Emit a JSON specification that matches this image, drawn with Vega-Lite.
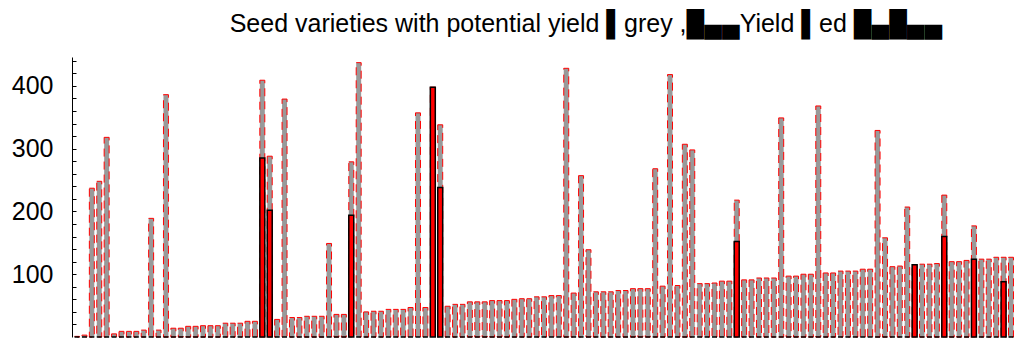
{
  "$schema": "https://vega.github.io/schema/vega-lite/v6.json",
  "width": 944,
  "height": 280,
  "autosize": {"type": "none"},
  "padding": {"left": 72, "top": 57, "right": 1, "bottom": 3},
  "background": "white",
  "title": {"text": "Seed varieties  with  potential  yield  ▌grey ,█▄▄Yield  ▌ed █▄█▄▄", "font": "Liberation Sans", "fontSize": 25, "fontWeight": "normal", "color": "black", "anchor": "middle", "frame": "group", "dx": 42, "offset": -8, "baseline": "alphabetic"},
  "data": {"values": [
    {"id":1,"potential":1,"yield":0},{"id":2,"potential":3,"yield":0},{"id":3,"potential":237,"yield":0},{"id":4,"potential":248,"yield":0},{"id":5,"potential":318,"yield":0},
    {"id":6,"potential":5,"yield":0},{"id":7,"potential":9,"yield":0},{"id":8,"potential":9,"yield":0},{"id":9,"potential":9,"yield":0},{"id":10,"potential":11,"yield":0},
    {"id":11,"potential":189,"yield":0},{"id":12,"potential":11,"yield":0},{"id":13,"potential":386,"yield":0},{"id":14,"potential":14,"yield":0},{"id":15,"potential":14,"yield":0},
    {"id":16,"potential":17,"yield":0},{"id":17,"potential":17,"yield":0},{"id":18,"potential":18,"yield":0},{"id":19,"potential":18,"yield":0},{"id":20,"potential":18,"yield":0},
    {"id":21,"potential":22,"yield":0},{"id":22,"potential":22,"yield":0},{"id":23,"potential":22,"yield":0},{"id":24,"potential":25,"yield":0},{"id":25,"potential":25,"yield":0},
    {"id":26,"potential":409,"yield":285},{"id":27,"potential":288,"yield":202},{"id":28,"potential":28,"yield":0},{"id":29,"potential":379,"yield":0},{"id":30,"potential":31,"yield":0},
    {"id":31,"potential":31,"yield":0},{"id":32,"potential":33,"yield":0},{"id":33,"potential":33,"yield":0},{"id":34,"potential":33,"yield":0},{"id":35,"potential":149,"yield":0},
    {"id":36,"potential":36,"yield":0},{"id":37,"potential":36,"yield":0},{"id":38,"potential":279,"yield":194},{"id":39,"potential":437,"yield":0},{"id":40,"potential":40,"yield":0},
    {"id":41,"potential":41,"yield":0},{"id":42,"potential":41,"yield":0},{"id":43,"potential":44,"yield":0},{"id":44,"potential":44,"yield":0},{"id":45,"potential":44,"yield":0},
    {"id":46,"potential":47,"yield":0},{"id":47,"potential":357,"yield":0},{"id":48,"potential":47,"yield":0},{"id":49,"potential":398,"yield":398},{"id":50,"potential":338,"yield":238},
    {"id":51,"potential":49,"yield":0},{"id":52,"potential":52,"yield":0},{"id":53,"potential":52,"yield":0},{"id":54,"potential":56,"yield":0},{"id":55,"potential":56,"yield":0},
    {"id":56,"potential":56,"yield":0},{"id":57,"potential":58,"yield":0},{"id":58,"potential":58,"yield":0},{"id":59,"potential":58,"yield":0},{"id":60,"potential":60,"yield":0},
    {"id":61,"potential":61,"yield":0},{"id":62,"potential":61,"yield":0},{"id":63,"potential":64,"yield":0},{"id":64,"potential":64,"yield":0},{"id":65,"potential":66,"yield":0},
    {"id":66,"potential":66,"yield":0},{"id":67,"potential":428,"yield":0},{"id":68,"potential":70,"yield":0},{"id":69,"potential":257,"yield":0},{"id":70,"potential":139,"yield":0},
    {"id":71,"potential":72,"yield":0},{"id":72,"potential":72,"yield":0},{"id":73,"potential":72,"yield":0},{"id":74,"potential":74,"yield":0},{"id":75,"potential":74,"yield":0},
    {"id":76,"potential":77,"yield":0},{"id":77,"potential":77,"yield":0},{"id":78,"potential":77,"yield":0},{"id":79,"potential":268,"yield":0},{"id":80,"potential":81,"yield":0},
    {"id":81,"potential":418,"yield":0},{"id":82,"potential":82,"yield":0},{"id":83,"potential":307,"yield":0},{"id":84,"potential":298,"yield":0},{"id":85,"potential":85,"yield":0},
    {"id":86,"potential":85,"yield":0},{"id":87,"potential":86,"yield":0},{"id":88,"potential":89,"yield":0},{"id":89,"potential":89,"yield":0},{"id":90,"potential":218,"yield":152},
    {"id":91,"potential":91,"yield":0},{"id":92,"potential":91,"yield":0},{"id":93,"potential":94,"yield":0},{"id":94,"potential":94,"yield":0},{"id":95,"potential":94,"yield":0},
    {"id":96,"potential":349,"yield":0},{"id":97,"potential":97,"yield":0},{"id":98,"potential":97,"yield":0},{"id":99,"potential":100,"yield":0},{"id":100,"potential":100,"yield":0},
    {"id":101,"potential":368,"yield":0},{"id":102,"potential":102,"yield":0},{"id":103,"potential":102,"yield":0},{"id":104,"potential":105,"yield":0},{"id":105,"potential":105,"yield":0},
    {"id":106,"potential":105,"yield":0},{"id":107,"potential":108,"yield":0},{"id":108,"potential":108,"yield":0},{"id":109,"potential":329,"yield":0},{"id":110,"potential":158,"yield":0},
    {"id":111,"potential":112,"yield":0},{"id":112,"potential":113,"yield":0},{"id":113,"potential":207,"yield":0},{"id":114,"potential":115,"yield":115},{"id":115,"potential":116,"yield":0},
    {"id":116,"potential":116,"yield":0},{"id":117,"potential":117,"yield":0},{"id":118,"potential":226,"yield":160},{"id":119,"potential":120,"yield":0},{"id":120,"potential":120,"yield":0},
    {"id":121,"potential":122,"yield":0},{"id":122,"potential":177,"yield":124},{"id":123,"potential":124,"yield":0},{"id":124,"potential":124,"yield":0},{"id":125,"potential":127,"yield":0},
    {"id":126,"potential":127,"yield":88},{"id":127,"potential":127,"yield":0}
  ]},
  "encoding": {
    "x": {"field": "id", "type": "ordinal", "axis": null, "scale": {"paddingInner": 0.33, "paddingOuter": 0.34}}
  },
  "layer": [
    {
      "mark": {"type": "bar", "fill": "#999999", "stroke": "#ff0000", "strokeWidth": 1, "strokeDash": [8, 5]},
      "encoding": {
        "y": {"field": "potential", "type": "quantitative", "scale": {"domain": [0, 446], "nice": false, "zero": true},
          "axis": {"values": [20,40,60,80,100,120,140,160,180,200,220,240,260,280,300,320,340,360,380,400,420,440],
            "tickCount": 40,
            "labelExpr": "datum.value % 100 == 0 ? datum.label : ''", "labelOverlap": false, "labelBound": false,
            "tickSize": -4, "tickColor": "black", "tickWidth": 1, "domainColor": "black", "domainWidth": 1,
            "labelFont": "Liberation Sans", "labelFontSize": 25, "labelColor": "black", "labelPadding": 23,
            "grid": false, "title": null}}
      }
    },
    {
      "mark": {"type": "bar", "fill": "#ff0000", "stroke": "black", "strokeWidth": 1.5},
      "encoding": {
        "y": {"field": "yield", "type": "quantitative"}
      }
    }
  ],
  "resolve": {"axis": {"y": "shared"}},
  "config": {"view": {"stroke": null}, "axisY": {"title": null}}
}
